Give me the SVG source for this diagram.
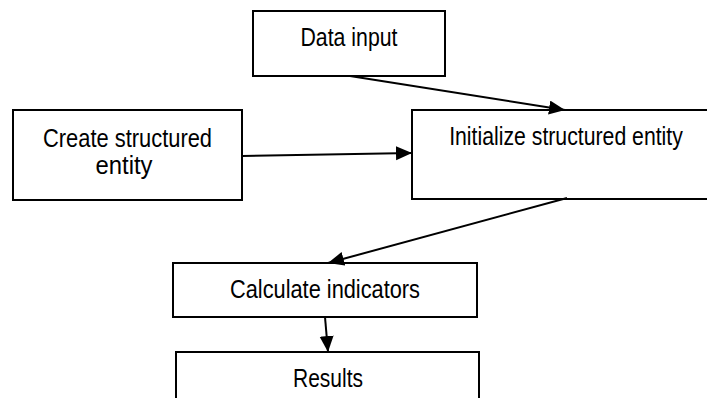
<svg xmlns="http://www.w3.org/2000/svg" width="707" height="398" viewBox="0 0 707 398">
<style>
.box{fill:#fff;stroke:#000;stroke-width:2}
.lbl{font-family:"Liberation Sans Narrow","Liberation Sans",Arial,sans-serif;font-size:25px;fill:#000;text-anchor:middle}
.con{stroke:#000;stroke-width:2;fill:none;marker-end:url(#ah)}
</style>
<defs>
<marker id="ah" markerUnits="userSpaceOnUse" markerWidth="17" markerHeight="15" refX="16" refY="7" orient="auto">
<path d="M0,0 L16,7 L0,14 z" fill="#000"/>
</marker>
</defs>
<rect width="707" height="398" fill="#fff"/>
<g id="n-data-input">
<rect class="box" x="253" y="11" width="192" height="65"/>
<text class="lbl" x="349" y="46" textLength="97" lengthAdjust="spacingAndGlyphs">Data input</text>
</g>
<g id="n-create">
<rect class="box" x="13" y="110" width="229" height="90"/>
<text class="lbl" x="127.5" y="147" textLength="169" lengthAdjust="spacingAndGlyphs">Create structured</text>
<text class="lbl" x="124" y="174" textLength="57" lengthAdjust="spacingAndGlyphs">entity</text>
</g>
<g id="n-initialize">
<path class="box" d="M707,110 H412 V199 H707"/>
<text class="lbl" transform="translate(566,145) scale(0.85,1)" x="0" y="0">Initialize structured entity</text>
</g>
<g id="n-calculate">
<rect class="box" x="173" y="263" width="304" height="54"/>
<text class="lbl" x="325" y="298" textLength="190" lengthAdjust="spacingAndGlyphs">Calculate indicators</text>
</g>
<g id="n-results">
<path class="box" d="M176,398 V352 H479 V398"/>
<text class="lbl" x="328" y="387" textLength="70" lengthAdjust="spacingAndGlyphs">Results</text>
</g>
<g id="connectors">
<line class="con" x1="350" y1="76" x2="565" y2="110"/>
<line class="con" x1="242" y1="156" x2="412" y2="153"/>
<line class="con" x1="567" y1="198" x2="328" y2="263"/>
<line class="con" x1="325" y1="317" x2="328" y2="352"/>
</g>
</svg>
